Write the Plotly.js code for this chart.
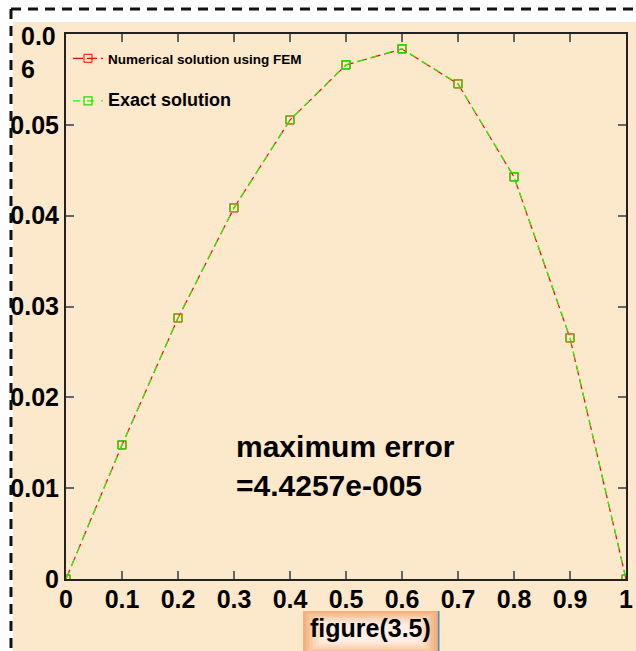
<!DOCTYPE html>
<html>
<head>
<meta charset="utf-8">
<script src="https://cdn.plot.ly/plotly-3.0.1.min.js"></script>
<style>
  html, body { margin: 0; padding: 0; background: #ffffff; }
  #chart { width: 636px; height: 651px; }
</style>
</head>
<body>
<div id="chart"></div>
<script>
// ---- data ----
const xNodes = [0, 0.1, 0.2, 0.3, 0.4, 0.5, 0.6, 0.7, 0.8, 0.9, 1.0];
const femValues = [0, 0.01475, 0.02873, 0.04085, 0.05053, 0.05659, 0.05835, 0.05450, 0.04426, 0.02653, 0];
const exactValues = [0, 0.01478, 0.02876, 0.04088, 0.05056, 0.05662, 0.05838, 0.05454, 0.04430, 0.02657, 0];
const xTickVals = [0, 0.1, 0.2, 0.3, 0.4, 0.5, 0.6, 0.7, 0.8, 0.9, 1];
const xTickText = ["0", "0.1", "0.2", "0.3", "0.4", "0.5", "0.6", "0.7", "0.8", "0.9", "1"];
const yTickVals = [0, 0.01, 0.02, 0.03, 0.04, 0.05];
const yTickText = ["0", "0.01", "0.02", "0.03", "0.04", "0.05"];
const topYLabel = "0.0<br>6";
const femName = "Numerical solution using FEM";
const exactName = "Exact solution";
const errorNote = "maximum error<br>=4.4257e-005";
const figureLabel = "figure(3.5)";

// ---- layout geometry ----
const W = 636, H = 651;
const L = 66, R = 10, T = 34, B = 72;
const pw = W - L - R, ph = H - T - B;
const px = v => (v - L) / pw;          // pixel x -> paper x
const py = v => (H - B - v) / ph;      // pixel y -> paper y

const FONT = "Arial, 'Liberation Sans', sans-serif";
const BEIGE = "#FCE8CB";

const traces = [
  {
    x: xNodes, y: femValues, name: femName, type: "scatter", mode: "lines+markers",
    legendgroup: "a",
    line: { color: "#FF0000", width: 1.2, dash: "10px,4px" },
    marker: { symbol: "square-open", size: 8, color: "#FF0000", line: { width: 1, color: "#FF0000" } }
  },
  {
    x: xNodes, y: exactValues, name: '<span style="font-size:18px">' + exactName + '</span>',
    type: "scatter", mode: "lines+markers", legendgroup: "b",
    line: { color: "#22FF00", width: 1.2, dash: "7px,7px" },
    marker: { symbol: "square-open", size: 8, color: "#22DD00", line: { width: 1.2, color: "#22DD00" } }
  }
];

const shapes = [];
// beige figure area
shapes.push({ type: "rect", xref: "paper", yref: "paper", layer: "below",
  x0: px(13), x1: px(W + 2), y0: py(H + 2), y1: py(22),
  fillcolor: BEIGE, line: { width: 0 } });
// dashed frame (top and left)
shapes.push({ type: "line", xref: "paper", yref: "paper", layer: "above",
  x0: px(11), x1: px(W + 2), y0: py(9), y1: py(9),
  line: { color: "#111", width: 3, dash: "10px,7px" } });
shapes.push({ type: "line", xref: "paper", yref: "paper", layer: "above",
  x0: px(11), x1: px(11), y0: py(9), y1: py(H + 2),
  line: { color: "#111", width: 3, dash: "10px,7px" } });
// gradient-like label box
const boxColors = ["#F5B080", "#F7BD92", "#F9CAA6", "#FAD5B8", "#FCDFC9", "#FDE7D8", "#FEEDE3"];
boxColors.forEach((c, i) => {
  const ix = i * 3.2, iy = i * 2.2;
  shapes.push({ type: "rect", xref: "paper", yref: "paper", layer: "below",
    x0: px(303 + ix), x1: px(437 - ix), y0: py(H + 4 - iy), y1: py(611 + iy),
    fillcolor: c, line: { width: 0 } });
});
shapes.push({ type: "line", xref: "paper", yref: "paper", layer: "below",
  x0: px(438.5), x1: px(438.5), y0: py(611), y1: py(H + 2),
  line: { color: "#5E8C96", width: 2 } });

const annotations = [
  { xref: "paper", yref: "paper", x: px(19), y: py(53), xanchor: "left", yanchor: "middle",
    align: "left", showarrow: false, text: topYLabel,
    font: { family: FONT, size: 25, weight: "bold", color: "#000" } },
  { xref: "paper", yref: "paper", x: px(234), y: py(466), xanchor: "left", yanchor: "middle",
    align: "left", showarrow: false, text: errorNote,
    font: { family: FONT, size: 30, weight: "bold", color: "#000" } },
  { xref: "paper", yref: "paper", x: px(370), y: py(628), xanchor: "center", yanchor: "middle",
    showarrow: false, text: figureLabel,
    font: { family: FONT, size: 25, weight: "bold", color: "#000" } }
];

const axisCommon = {
  showgrid: false, zeroline: false, showline: true, mirror: "ticks",
  linecolor: "#222", linewidth: 2,
  ticks: "inside", ticklen: 8, tickwidth: 2, tickcolor: "#666",
  tickfont: { family: FONT, size: 25, weight: "bold", color: "#000" }
};

const layout = {
  width: W, height: H,
  margin: { l: L, r: R, t: T, b: B, pad: 0 },
  paper_bgcolor: "#ffffff",
  plot_bgcolor: "rgba(0,0,0,0)",
  font: { family: FONT, color: "#000" },
  xaxis: Object.assign({}, axisCommon, {
    range: [0, 1], tickmode: "array", tickvals: xTickVals, ticktext: xTickText,
    ticklabelstandoff: -3
  }),
  yaxis: Object.assign({}, axisCommon, {
    range: [0, 0.06], tickmode: "array", tickvals: yTickVals, ticktext: yTickText
  }),
  showlegend: true,
  legend: {
    x: px(68), y: py(43), xanchor: "left", yanchor: "top",
    bgcolor: "rgba(0,0,0,0)", borderwidth: 0,
    traceorder: "grouped", tracegroupgap: 22,
    font: { family: FONT, size: 13.5, weight: "bold", color: "#000" }
  },
  shapes: shapes,
  annotations: annotations
};

Plotly.newPlot("chart", traces, layout, { displayModeBar: false, staticPlot: true });
</script>
</body>
</html>
